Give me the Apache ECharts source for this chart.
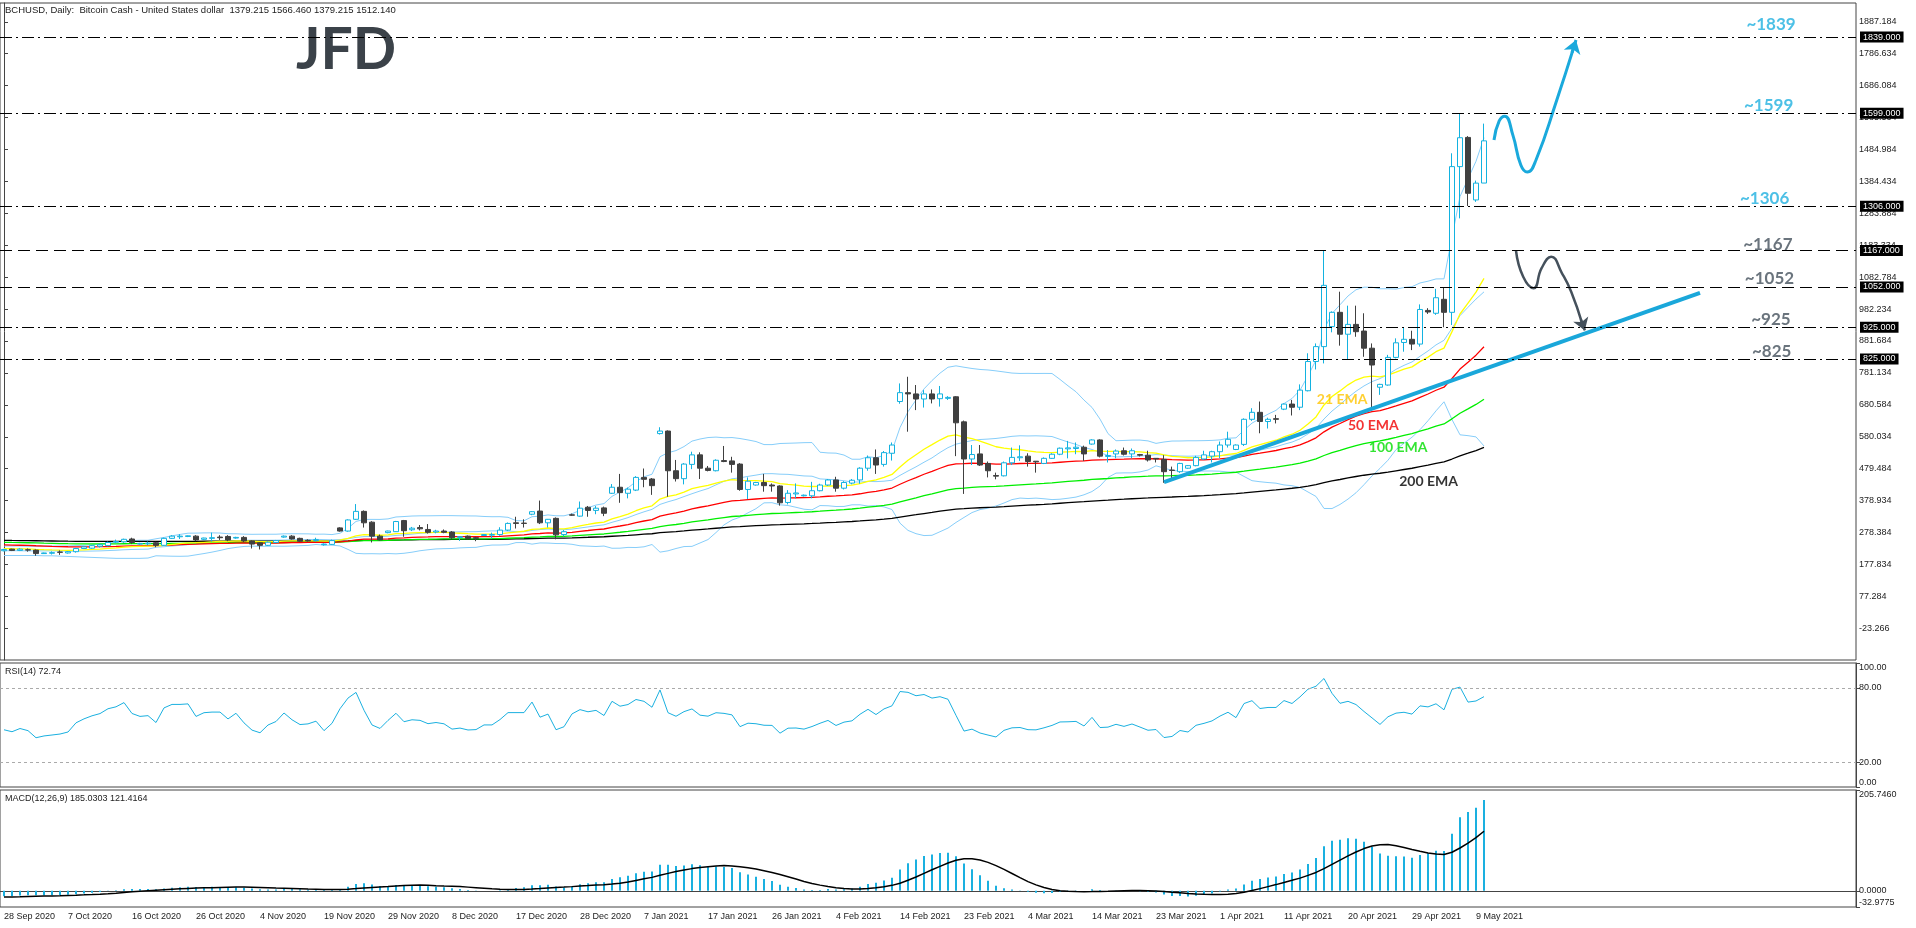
<!DOCTYPE html>
<html>
<head>
<meta charset="utf-8">
<title>BCHUSD Daily</title>
<script src="https://cdn.jsdelivr.net/npm/echarts@6/dist/echarts.min.js"></script>
<style>
  html, body { margin: 0; padding: 0; background: #fff; }
  #chart { width: 1916px; height: 928px; }
</style>
</head>
<body>
<div id="chart"></div>
<script>
// date labels, one every 8 bars
const dateTicks = ['28 Sep 2020', '7 Oct 2020', '16 Oct 2020', '26 Oct 2020', '4 Nov 2020', '19 Nov 2020',
  '29 Nov 2020', '8 Dec 2020', '17 Dec 2020', '28 Dec 2020', '7 Jan 2021', '17 Jan 2021', '26 Jan 2021',
  '4 Feb 2021', '14 Feb 2021', '23 Feb 2021', '4 Mar 2021', '14 Mar 2021', '23 Mar 2021', '1 Apr 2021',
  '11 Apr 2021', '20 Apr 2021', '29 Apr 2021', '9 May 2021'];

// daily candles: [open, close, low, high]
const ohlc = [
  [221,225,219,227],[226,222,220,227],[222,226,220,229],[224,223,218,228],[223,212,205,225],
  [212,214,211,215],[213,215,209,219],[217,216,208,222],[214,218,212,220],[218,228,215,230],
  [228,233,226,236],[229,237,227,239],[235,240,231,243],[237,247,235,250],[248,250,245,256],
  [249,257,246,259],[258,247,242,262],[242,244,240,246],[243,245,238,250],[246,238,232,249],
  [238,260,236,262],[260,267,258,270],[265,267,258,273],[266,268,264,269],[267,255,251,270],
  [257,261,254,262],[260,262,250,278],[264,262,255,270],[266,255,251,270],[261,263,259,265],
  [263,252,248,267],[252,242,228,254],[246,238,225,248],[238,248,236,250],[247,253,245,255],
  [264,267,262,269],[267,258,256,270],[260,251,249,262],[254,252,250,257],[253,256,250,262],
  [240,242,237,244],[241,253,239,256],[293,283,281,295],[283,318,281,320],[320,345,318,368],
  [345,309,294,348],[311,267,247,314],[267,255,253,272],[278,283,276,284],[281,313,280,315],
  [316,284,265,318],[287,292,283,296],[294,290,285,302],[288,279,275,305],[280,283,276,287],
  [283,279,276,288],[280,262,258,283],[263,265,252,267],[267,259,257,269],[262,260,251,265],
  [269,272,268,273],[270,272,260,278],[272,286,268,295],[286,307,283,310],[309,307,291,328],
  [308,307,294,320],[336,344,333,346],[346,309,305,379],[309,320,294,321],[323,271,257,326],
  [272,281,266,286],[334,333,331,338],[330,355,328,376],[358,348,328,362],[348,355,336,362],
  [356,339,330,360],[402,421,400,431],[421,404,372,463],[402,415,386,420],[412,452,409,456],
  [452,446,421,480],[447,426,397,450],[590,598,587,610],[598,473,391,600],[473,448,439,507],
  [448,494,430,497],[493,523,478,533],[523,481,447,531],[481,474,471,488],[473,506,471,509],
  [505,502,500,551],[504,493,467,517],[494,414,410,497],[414,440,384,452],[428,436,426,438],
  [436,426,407,463],[428,425,407,433],[425,372,363,427],[373,402,367,412],[400,403,386,433],
  [394,396,392,398],[394,410,386,438],[410,428,408,432],[428,444,425,447],[444,418,407,454],
  [418,436,414,440],[434,443,430,447],[444,481,432,484],[481,514,473,521],[514,491,463,540],
  [493,530,486,535],[528,554,505,562],[691,719,684,748],[719,715,596,769],[715,699,664,743],
  [699,715,672,727],[715,699,685,729],[700,715,675,740],[701,704,696,708],[706,624,519,708],
  [627,510,400,631],[510,524,491,554],[526,491,488,554],[496,473,452,502],[458,456,446,467],
  [457,498,455,502],[498,515,491,546],[514,517,504,553],[519,502,486,528],[503,501,467,503],
  [496,512,494,515],[512,525,510,528],[525,544,522,546],[542,545,512,567],[543,547,525,562],
  [547,526,504,552],[557,570,555,572],[570,519,515,572],[518,521,499,538],[526,535,512,540],
  [536,525,521,546],[526,536,512,543],[524,522,518,526],[522,507,502,536],[512,510,499,513],
  [509,470,435,522],[475,474,444,486],[470,496,466,498],[481,489,479,491],[489,515,487,520],
  [510,523,507,536],[519,533,499,536],[533,554,512,565],[554,572,546,596],[540,554,538,556],
  [556,635,551,638],[635,657,630,670],[657,628,591,691],[628,635,606,640],[637,635,622,649],
  [667,683,664,685],[683,673,647,696],[673,727,664,745],[725,817,723,843],[817,864,792,874],
  [864,1057,811,1166],[927,972,909,975],[972,903,867,1037],[903,934,825,993],[934,911,895,993],
  [913,859,832,969],[859,806,670,874],[736,745,712,747],[743,830,741,838],[830,876,827,890],
  [877,887,848,924],[887,872,853,914],[872,981,864,997],[978,973,967,985],[969,1018,964,1046],
  [1013,972,925,1051],[972,1431,932,1473],[1431,1522,1268,1599],[1523,1347,1307,1527],[1326,1379,1320,1387],
  [1379.215,1512.14,1379.215,1566.46]
];

const priceTicks = [-23.266, 77.284, 177.834, 278.384, 378.934, 479.484, 580.034, 680.584, 781.134,
  881.684, 982.234, 1082.784, 1183.334, 1283.884, 1384.434, 1484.984, 1585.534, 1686.084, 1786.634, 1887.184];
const rsiTicks = [0, 20, 80, 100];
const macdTicks = [-32.9775, 0, 205.746];

// support / resistance levels and their tags
const levels = [1839, 1599, 1306, 1167, 1052, 925, 825];
const dashedLevels = [1167, 1052];
const levelTags = [
  ['~1839', 217.8, 1879, '#1fb0e0'], ['~1599', 217.5, 1625, '#1fb0e0'], ['~1306', 217, 1329, '#1fb0e0'],
  ['~1167', 217.4, 1187, '#45515c'], ['~1052', 217.6, 1077, '#45515c'],
  ['~925', 218.4, 948, '#45515c'], ['~825', 218.5, 848, '#45515c']
];
const emaTags = [
  ['21 EMA', 164.1, 699, '#ffc400'], ['50 EMA', 168, 617, '#f00000'],
  ['100 EMA', 170.6, 545, '#00dd00'], ['200 EMA', 174.4, 438, '#000000']
];

// drawn annotations in (bar, price)
const trendLine = [[145, 437], [212, 1033]];
const bullPath = [[186.25, 1515], [186.9, 1575], [187.6, 1590], [188.6, 1531], [189.6, 1436],
  [190.4, 1414], [191.5, 1452], [194.1, 1641], [196.2, 1805]];
const bullTip = [[196.0, 1790], [196.5, 1830]];
const bearPath = [[189.0, 1166], [189.9, 1084], [191.2, 1048], [192.2, 1111], [193.4, 1147],
  [194.75, 1095], [195.9, 1037], [197.3, 935]];
const bearTip = [[197.1, 950], [197.6, 915]];

// indicator start values
const emaSeed = { 21: 228, 50: 240, 100: 248, 200: 254 };
const bbUpperLead = [236,236,236,235,235,236,236,236,236,237,238,240,242,245,248,251,253,254,254];
const bbLowerLead = [206,206,206,206,206,205,205,204,203,202,201,200,199,198,197,197,197,197,198];
const rsiSeed = [3.0, 3.5];
const macdSeed = [224, 236, -13];

const visibleBars = 232;
const slots = Array.from({ length: visibleBars }, (_, i) => i);
const closes = ohlc.map(d => d[1]);

function ema(src, n, seed) {
  const k = 2 / (n + 1);
  let prev = seed;
  return src.map(v => (prev = prev + k * (v - prev)));
}

function bollinger(src, n, mult) {
  const up = [], mid = [], lo = [];
  src.forEach((v, i) => {
    if (i < n - 1) {
      up.push(bbUpperLead[i]); lo.push(bbLowerLead[i]);
      mid.push((bbUpperLead[i] + bbLowerLead[i]) / 2);
      return;
    }
    const win = src.slice(i - n + 1, i + 1);
    const m = win.reduce((a, b) => a + b, 0) / n;
    const sd = Math.sqrt(win.reduce((a, b) => a + (b - m) * (b - m), 0) / n);
    up.push(m + mult * sd); mid.push(m); lo.push(m - mult * sd);
  });
  return [up, mid, lo];
}

function rsi(src, n) {
  let g = rsiSeed[0], l = rsiSeed[1];
  return src.map((v, i) => {
    if (i > 0) {
      const d = v - src[i - 1];
      g = (g * (n - 1) + Math.max(d, 0)) / n;
      l = (l * (n - 1) + Math.max(-d, 0)) / n;
    }
    return 100 - 100 / (1 + g / l);
  });
}

function macd(src) {
  const fast = ema(src, 12, macdSeed[0]);
  const slow = ema(src, 26, macdSeed[1]);
  const main = fast.map((f, i) => f - slow[i]);
  const hist = Array(8).fill(macdSeed[2]).concat(main);
  const signal = main.map((_, i) => hist.slice(i, i + 9).reduce((a, b) => a + b, 0) / 9);
  return [main, signal];
}

const ema21 = ema(closes, 21, emaSeed[21]);
const ema50 = ema(closes, 50, emaSeed[50]);
const ema100 = ema(closes, 100, emaSeed[100]);
const ema200 = ema(closes, 200, emaSeed[200]);
const [bbUp, bbMid, bbLo] = bollinger(closes, 20, 2);
const rsiLine = rsi(closes, 14);
const [macdMain, macdSignal] = macd(closes);

const CYAN = '#13b2e0';
const DARK = '#404040';
const FONT = '"Liberation Sans", Arial, sans-serif';
const gridBase = { left: 0, width: 1856, show: true, borderColor: '#444', borderWidth: 1 };

const chart = echarts.init(document.getElementById('chart'));

function lineOn(data, color, width, extra) {
  return Object.assign({
    type: 'line', data: data, showSymbol: false, symbol: 'none', silent: true,
    lineStyle: { color: color, width: width }
  }, extra || {});
}

function tagSeries(tags, size) {
  return {
    type: 'scatter', xAxisIndex: 1, yAxisIndex: 0, symbolSize: 0, silent: true, z: 6,
    data: tags.map(t => ({
      value: [t[1], t[2]],
      label: { show: true, position: 'right', distance: 0, formatter: t[0], color: t[3],
        fontSize: size, fontWeight: 'bold', fontFamily: 'Lato, sans-serif' }
    }))
  };
}

chart.setOption({
  animation: false,
  backgroundColor: '#ffffff',
  textStyle: { fontFamily: FONT },
  grid: [
    Object.assign({ top: 3, height: 657 }, gridBase),
    Object.assign({ top: 663, height: 124 }, gridBase),
    Object.assign({ top: 790, height: 117 }, gridBase)
  ],
  xAxis: [
    { type: 'category', gridIndex: 0, data: slots, show: false },
    { type: 'value', gridIndex: 0, min: -0.5, max: visibleBars - 0.5, show: false },
    { type: 'category', gridIndex: 1, data: slots, show: false },
    {
      type: 'category', gridIndex: 2, data: slots,
      axisLine: { lineStyle: { color: '#444' } },
      axisTick: { interval: 7, alignWithLabel: true, length: 4, lineStyle: { color: '#444' } },
      axisLabel: {
        interval: 7, align: 'left', margin: 5, fontSize: 9, color: '#222',
        formatter: (v, i) => dateTicks[i / 8] || ''
      }
    }
  ],
  yAxis: [
    {
      type: 'value', gridIndex: 0, position: 'right', min: -123.2, max: 1946.4, scale: true,
      splitLine: { show: false },
      axisLine: { show: true, lineStyle: { color: '#444' } },
      axisTick: { show: true, length: 4, customValues: priceTicks, lineStyle: { color: '#444' } },
      axisLabel: { customValues: priceTicks, margin: 3, fontSize: 9, color: '#222', formatter: v => v.toFixed(3) }
    },
    {
      type: 'value', gridIndex: 1, position: 'right', min: 0, max: 100,
      splitLine: { show: false },
      axisLine: { show: true, lineStyle: { color: '#444' } },
      axisTick: { show: true, length: 4, customValues: rsiTicks, lineStyle: { color: '#444' } },
      axisLabel: {
        customValues: rsiTicks, margin: 3, fontSize: 9, color: '#222', formatter: v => v.toFixed(2),
        verticalAlignMaxLabel: 'top', verticalAlignMinLabel: 'bottom'
      }
    },
    {
      type: 'value', gridIndex: 2, position: 'right', min: macdTicks[0], max: macdTicks[2],
      splitLine: { show: false },
      axisLine: { show: true, lineStyle: { color: '#444' } },
      axisTick: { show: true, length: 4, customValues: macdTicks, lineStyle: { color: '#444' } },
      axisLabel: {
        customValues: macdTicks, margin: 3, fontSize: 9, color: '#222', formatter: v => v.toFixed(4),
        verticalAlignMaxLabel: 'top', verticalAlignMinLabel: 'bottom'
      }
    }
  ],
  graphic: [
    { type: 'text', left: 5, top: 5, style: { text: 'BCHUSD, Daily:  Bitcoin Cash - United States dollar  1379.215 1566.460 1379.215 1512.140', font: '9.5px ' + FONT, fill: '#222' } },
    { type: 'text', left: 5, top: 667, style: { text: 'RSI(14) 72.74', font: '9px ' + FONT, fill: '#222' } },
    { type: 'text', left: 5, top: 794, style: { text: 'MACD(12,26,9) 185.0303 121.4164', font: '9px ' + FONT, fill: '#222' } },
    { type: 'text', left: 296, top: 22, style: { text: 'JFD', font: 'bold 57px Lato, sans-serif', fill: '#3b4249' } }
  ],
  series: [
    lineOn(bbUp, '#87cefa', 1),
    lineOn(bbMid, '#87cefa', 1),
    lineOn(bbLo, '#87cefa', 1),
    lineOn(ema200, '#000000', 1.3),
    lineOn(ema100, '#00ee00', 1.3),
    lineOn(ema50, '#ff0000', 1.3),
    lineOn(ema21, '#ffff00', 1.3),
    {
      type: 'candlestick', data: ohlc, barWidth: 5, z: 4, silent: true,
      itemStyle: { color: '#ffffff', color0: DARK, borderColor: CYAN, borderColor0: DARK, borderWidth: 1 },
      markLine: {
        silent: true, symbol: 'none', z: 8,
        label: {
          position: 'end', distance: 4, formatter: p => p.value.toFixed(3),
          color: '#fff', backgroundColor: '#000', padding: [1, 3], fontSize: 9, fontFamily: FONT
        },
        data: levels.map(v => ({
          yAxis: v,
          lineStyle: { color: '#000', width: 1, type: dashedLevels.includes(v) ? [12, 6] : [12, 4, 2, 4] }
        }))
      }
    },
    lineOn(trendLine, '#1aa7da', 4, { xAxisIndex: 1, z: 5 }),
    lineOn(bullPath, '#1aa9dc', 3, {
      xAxisIndex: 1, smooth: 0.5, z: 5,
      markLine: { silent: true, symbol: ['none', 'arrow'], symbolSize: 13, label: { show: false },
        lineStyle: { color: '#1aa9dc', width: 3, type: 'solid' },
        data: [[{ coord: bullTip[0] }, { coord: bullTip[1] }]] }
    }),
    lineOn(bearPath, '#45515c', 2.5, {
      xAxisIndex: 1, smooth: 0.5, z: 5,
      markLine: { silent: true, symbol: ['none', 'arrow'], symbolSize: 12, label: { show: false },
        lineStyle: { color: '#45515c', width: 2.5, type: 'solid' },
        data: [[{ coord: bearTip[0] }, { coord: bearTip[1] }]] }
    }),
    tagSeries(levelTags, 17),
    tagSeries(emaTags, 14),
    lineOn(rsiLine, '#1ab0e0', 1, {
      xAxisIndex: 2, yAxisIndex: 1,
      markLine: { silent: true, symbol: 'none', label: { show: false },
        lineStyle: { color: '#aaa', width: 1, type: [3, 3] },
        data: [{ yAxis: 20 }, { yAxis: 80 }] }
    }),
    {
      type: 'bar', xAxisIndex: 3, yAxisIndex: 2, data: macdMain, barWidth: 2, silent: true,
      itemStyle: { color: '#1ab0e0' }
    },
    lineOn(macdSignal, '#000000', 1.5, { xAxisIndex: 3, yAxisIndex: 2 })
  ]
});
</script>
</body>
</html>
